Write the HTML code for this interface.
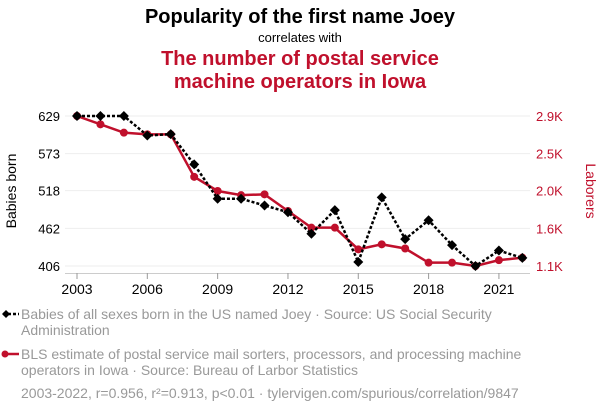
<!DOCTYPE html>
<html><head><meta charset="utf-8"><style>
body{margin:0;background:#fff;width:600px;height:414px;overflow:hidden;font-family:"Liberation Sans",sans-serif}
svg text{font-family:"Liberation Sans",sans-serif}
</style></head><body>
<svg id="chart" width="600" height="414">
<text x="300" y="23" text-anchor="middle" font-size="20" font-weight="bold" fill="#000">Popularity of the first name Joey</text>
<text x="300" y="42" text-anchor="middle" font-size="13" fill="#000">correlates with</text>
<text x="300" y="65" text-anchor="middle" font-size="20" font-weight="bold" fill="#c0102c">The number of postal service</text>
<text x="300" y="88" text-anchor="middle" font-size="20" font-weight="bold" fill="#c0102c">machine operators in Iowa</text>
<g id="grid"></g><g id="axes"></g><g id="series"></g>
<text transform="translate(16,191) rotate(-90)" text-anchor="middle" font-size="14" fill="#000">Babies born</text>
<text transform="translate(586,191) rotate(90)" text-anchor="middle" font-size="14" fill="#c0102c">Laborers</text>
<g>
<line x1="3" y1="314" x2="19" y2="314" stroke="#000" stroke-width="2.5" stroke-dasharray="3,2"/>
<path d="M6 310 L10 314 L6 318 L2 314Z" fill="#000"/>
<text x="21" y="319" font-size="14" fill="#999">Babies of all sexes born in the US named Joey · Source: US Social Security</text>
<text x="21" y="335" font-size="14" fill="#999">Administration</text></g>
<g>
<line x1="3" y1="354" x2="19" y2="354" stroke="#c0102c" stroke-width="2.5"/>
<circle cx="5" cy="354" r="3.5" fill="#c0102c"/>
<text x="21" y="359" font-size="14" fill="#999">BLS estimate of postal service mail sorters, processors, and processing machine</text>
<text x="21" y="375" font-size="14" fill="#999">operators in Iowa · Source: Bureau of Larbor Statistics</text></g>
<text x="21" y="398" font-size="14" fill="#999">2003-2022, r=0.956, r²=0.913, p&lt;0.01 · tylervigen.com/spurious/correlation/9847</text>
</svg>
<script>
const years=[2003,2004,2005,2006,2007,2008,2009,2010,2011,2012,2013,2014,2015,2016,2017,2018,2019,2020,2021,2022];
const babies=[629,629,629,600,602,557,506,506,496,486,454,489,412,508,446,474,437,406,429,418];
const laborers=[2.90,2.80,2.70,2.68,2.68,2.17,2.00,1.95,1.96,1.76,1.56,1.56,1.30,1.36,1.31,1.14,1.14,1.10,1.17,1.20];
const leftTicks=[629,573,518,462,406];
const rightTickLabels=["2.9K","2.5K","2.0K","1.6K","1.1K"];
const xTicks=[2003,2006,2009,2012,2015,2018,2021];
const NS="http://www.w3.org/2000/svg";
const x=y=>77+(y-2003)*23.44;
const yL=v=>116+(629-v)*150/223;
const yR=v=>116+(2.9-v)*150/1.8;
function el(t,a,p){const e=document.createElementNS(NS,t);for(const k in a)e.setAttribute(k,a[k]);document.getElementById(p).appendChild(e);return e;}
leftTicks.forEach((t,i)=>{const yy=yL(t);
const g=el('line',{x1:65,x2:530,y1:yy,y2:yy,stroke:'#eee','stroke-width':1},'grid');


const a=el('text',{x:60,y:yy+5,'text-anchor':'end','font-size':13,fill:'#000'},'axes');a.textContent=t;


const b=el('text',{x:536,y:yy+5,'font-size':13,fill:'#c0102c'},'axes');b.textContent=rightTickLabels[i];

});
const ax=el('line',{x1:65,x2:530,y1:273.5,y2:273.5,stroke:'#ccc'},'axes');


xTicks.forEach(t=>{const xx=x(t);
const tk=el('line',{x1:xx,x2:xx,y1:273,y2:279,stroke:'#999'},'axes');


const l=el('text',{x:xx,y:294,'text-anchor':'middle','font-size':14,fill:'#000'},'axes');l.textContent=t;

});
const rp=el('polyline',{points:years.map((y,i)=>x(y)+','+yR(laborers[i])).join(' '),fill:'none',stroke:'#c0102c','stroke-width':2.5},'series');


years.forEach((y,i)=>{const c=el('circle',{cx:x(y),cy:yR(laborers[i]),r:4,fill:'#c0102c'},'series');

});
const bp=el('polyline',{points:years.map((y,i)=>x(y)+','+yL(babies[i])).join(' '),fill:'none',stroke:'#000','stroke-width':2.5,'stroke-dasharray':'3,2'},'series');


years.forEach((y,i)=>{const cx=x(y),cy=yL(babies[i]);
const d=el('path',{d:`M${cx} ${cy-5}L${cx+5} ${cy}L${cx} ${cy+5}L${cx-5} ${cy}Z`,fill:'#000'},'series');

});
</script>
</body></html>
